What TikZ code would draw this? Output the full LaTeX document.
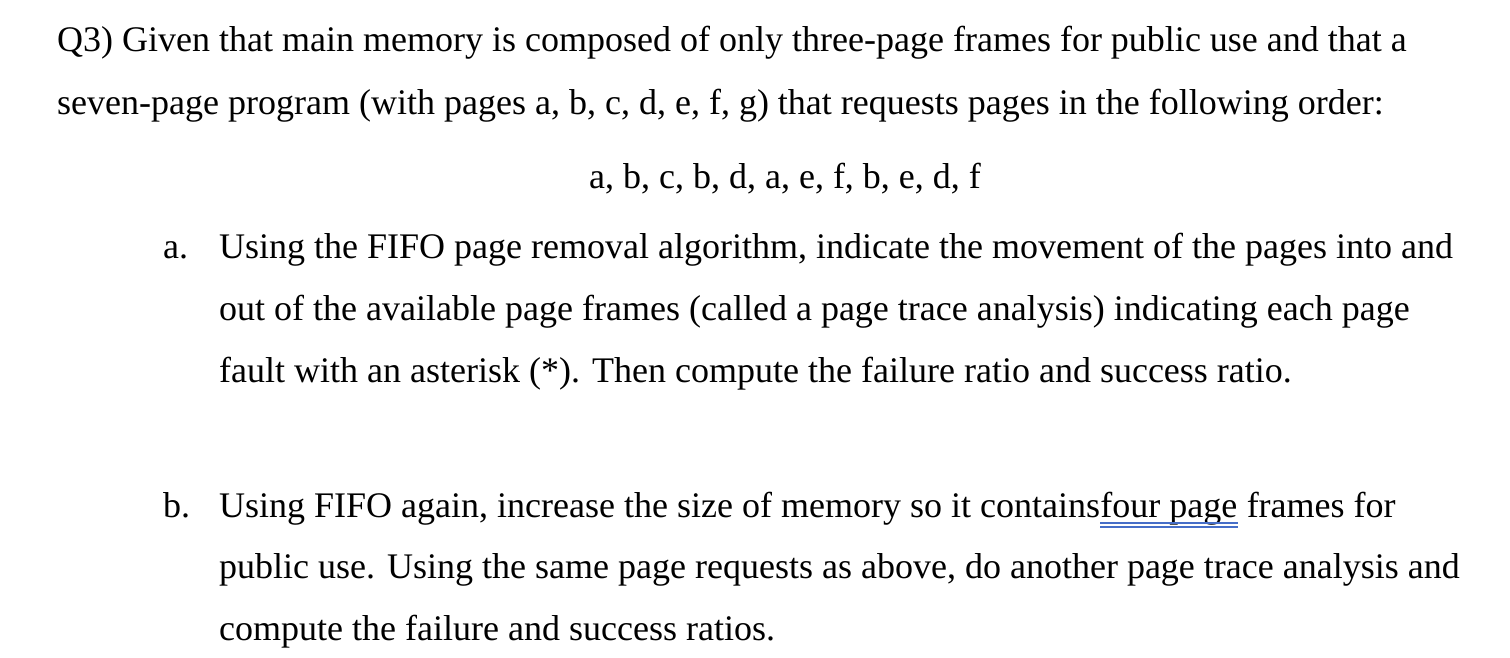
\documentclass[tikz,border=0pt]{standalone}
\usepackage{fontspec}
\setmainfont{Liberation Serif}
\definecolor{ulblue}{RGB}{70,110,200}
\begin{document}
\begin{tikzpicture}[x=1pt,y=-1pt,txt/.style={anchor=base west,inner sep=0pt,font=\fontsize{36}{40}\selectfont}]
\useasboundingbox (0,0) rectangle (1510,658);
\node[txt] (l1) at (57,52) {Q3) Given that main memory is composed of only three-page frames for public use and that a};
\node[txt] (l2) at (57,115) {seven-page program (with pages a, b, c, d, e, f, g) that requests pages in the following order:};
\node[txt,anchor=base] (l3) at (785,188) {a, b, c, b, d, a, e, f, b, e, d, f};
\node[txt] (a) at (163,258) {a.};
\node[txt] (a1) at (219,258) {Using the FIFO page removal algorithm, indicate the movement of the pages into and};
\node[txt] (a2) at (219,320) {out of the available page frames (called a page trace analysis) indicating each page};
\node[txt] (a3) at (219,382) {fault with an asterisk (*). Then compute the failure ratio and success ratio.};
\node[txt] (b) at (163,517) {b.};
\node[txt] (b1) at (219,517) {Using FIFO again, increase the size of memory so it contains\ };
\node[txt] (b1b) at (b1.base east) {four page};
\node[txt] (b1c) at (b1b.base east) {\ frames for};
\draw[ulblue,line width=1.2pt] ([yshift=-6pt]b1b.base west) -- ([yshift=-6pt]b1b.base east);
\draw[ulblue,line width=1.2pt] ([yshift=-10pt]b1b.base west) -- ([yshift=-10pt]b1b.base east);
\node[txt] (b2) at (219,578) {public use. Using the same page requests as above, do another page trace analysis and};
\node[txt] (b3) at (219,640) {compute the failure and success ratios.};
\end{tikzpicture}
\end{document}
